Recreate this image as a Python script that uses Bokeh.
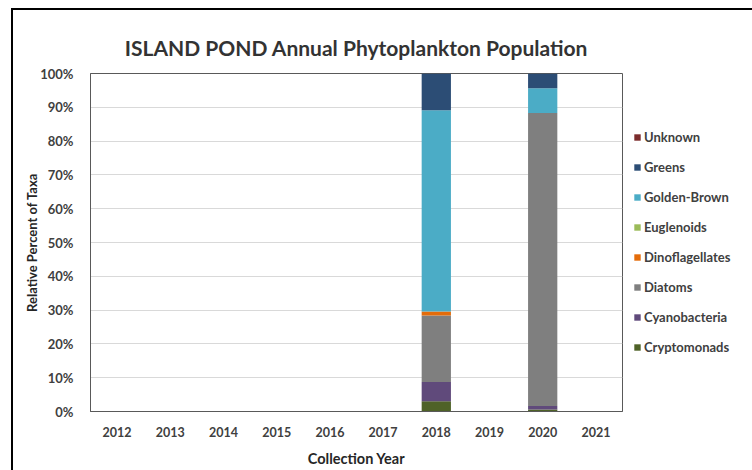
from bokeh.plotting import figure
from bokeh.models import (FixedTicker, CustomJSTickFormatter, Legend, LegendItem, Range1d,
                          InlineStyleSheet)
from bokeh.embed import file_html
from bokeh.resources import INLINE

years = ["2012", "2013", "2014", "2015", "2016", "2017", "2018", "2019", "2020", "2021"]
cryptomonads   = [0, 0, 0, 0, 0, 0, 3.0, 0, 0.6, 0]
cyanobacteria  = [0, 0, 0, 0, 0, 0, 5.7, 0, 1.0, 0]
diatoms        = [0, 0, 0, 0, 0, 0, 19.7, 0, 86.7, 0]
dinoflagellates = [0, 0, 0, 0, 0, 0, 1.2, 0, 0, 0]
euglenoids     = [0, 0, 0, 0, 0, 0, 0, 0, 0, 0]
golden_brown   = [0, 0, 0, 0, 0, 0, 59.5, 0, 7.3, 0]
greens         = [0, 0, 0, 0, 0, 0, 10.9, 0, 4.4, 0]
unknown        = [0, 0, 0, 0, 0, 0, 0, 0, 0, 0]

series = ["Cryptomonads", "Cyanobacteria", "Diatoms", "Dinoflagellates",
          "Euglenoids", "Golden-Brown", "Greens", "Unknown"]
colors = ["#4F6228", "#604A7B", "#7F7F7F", "#E46C0A",
          "#9BBB59", "#4BACC6", "#2C4D75", "#7B2C2C"]
y_ticks = [0, 10, 20, 30, 40, 50, 60, 70, 80, 90, 100]

data = {"year": years, "Cryptomonads": cryptomonads, "Cyanobacteria": cyanobacteria,
        "Diatoms": diatoms, "Dinoflagellates": dinoflagellates, "Euglenoids": euglenoids,
        "Golden-Brown": golden_brown, "Greens": greens, "Unknown": unknown}

FONT = "Lato"
TXT = "#404040"

frame_css = InlineStyleSheet(css="""
:host { position: relative; }
:host::after {
  content: ""; position: absolute; left: 11px; top: 8px; right: 6px; bottom: 0px;
  border: 2px solid #000000; border-bottom: none; pointer-events: none;
}
""")

p = figure(x_range=years, frame_width=532, frame_height=338, output_backend="svg",
           toolbar_location=None, min_border_left=90, min_border_right=130,
           min_border_top=73, min_border_bottom=59,
           title="ISLAND POND Annual Phytoplankton Population",
           stylesheets=[frame_css])
p.y_range = Range1d(0, 100)

renderers = p.vbar_stack(series, x="year", width=0.55, color=colors,
                         line_color=None, source=data)

p.title.align = "center"
p.title.text_font = FONT
p.title.text_font_size = "21px"
p.title.text_font_style = "bold"
p.title.text_color = "#333333"
p.title.standoff = 27

p.yaxis.ticker = FixedTicker(ticks=y_ticks)
p.yaxis.formatter = CustomJSTickFormatter(code="return tick.toFixed(0) + '%';")
for ax in (p.xaxis[0], p.yaxis[0]):
    ax.major_tick_line_color = None
    ax.minor_tick_line_color = None
    ax.major_label_text_font = FONT
    ax.major_label_text_font_style = "bold"
    ax.major_label_text_font_size = "12.5px"
    ax.major_label_text_color = TXT
    ax.axis_label_text_font = FONT
    ax.axis_label_text_font_style = "bold"
    ax.axis_label_text_color = "#262626"
    ax.axis_line_color = "#595959"
p.yaxis.axis_label = "Relative Percent of Taxa"
p.xaxis.axis_label = "Collection Year"
p.yaxis.axis_label_text_font_size = "13px"
p.xaxis.axis_label_text_font_size = "14.5px"
p.yaxis.major_label_text_font_size = "13px"
p.yaxis.major_label_standoff = 11
p.xaxis.major_label_standoff = 9
p.xaxis.axis_label_standoff = 10
p.yaxis.axis_label_standoff = -3

p.xgrid.grid_line_color = None
p.ygrid.grid_line_color = "#D9D9D9"
p.outline_line_color = "#595959"
p.outline_line_width = 1

items = [LegendItem(label=s, renderers=[r]) for s, r in zip(series, renderers)]
items.reverse()
legend = Legend(items=items, location="left", orientation="vertical",
                glyph_width=8, glyph_height=8, label_height=20, spacing=10,
                padding=0, margin=11, border_line_color=None,
                background_fill_alpha=0, label_standoff=3,
                label_text_font=FONT, label_text_font_style="bold",
                label_text_font_size="13px", label_text_color=TXT)
p.add_layout(legend, "right")

open("out.html", "w").write(file_html(p, INLINE))
